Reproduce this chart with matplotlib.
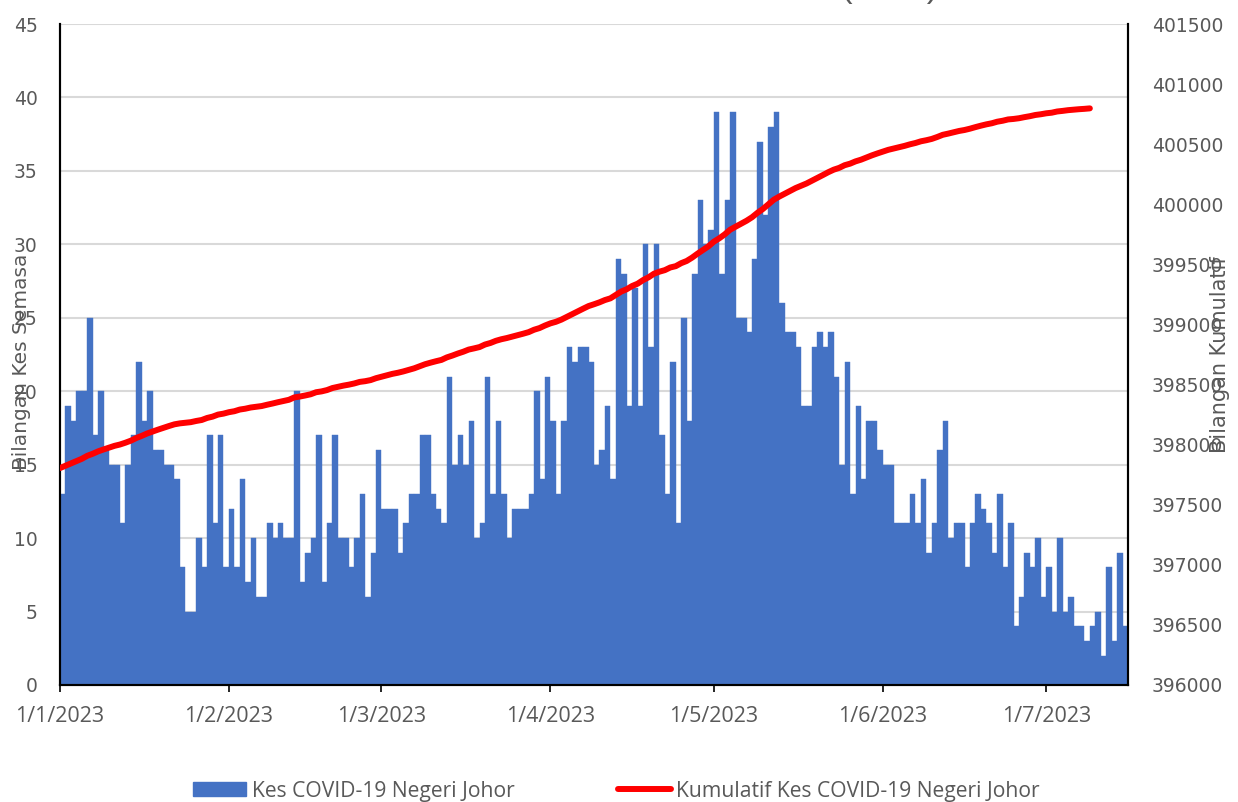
import numpy as np
import pandas as pd
import matplotlib
matplotlib.use("Agg")
import matplotlib.pyplot as plt
from matplotlib import font_manager
from matplotlib.patches import Patch
from matplotlib.lines import Line2D

# daily cases, 1 Jan 2023 onwards
kes_harian = [
    13, 19, 18, 20, 20, 25, 17, 20, 16, 15,
    15, 11, 15, 17, 22, 18, 20, 16, 16, 15,
    15, 14, 8, 5, 5, 10, 8, 17, 11, 17,
    8, 12, 8, 14, 7, 10, 6, 6, 11, 10,
    11, 10, 10, 20, 7, 9, 10, 17, 7, 11,
    17, 10, 10, 8, 10, 13, 6, 9, 16, 12,
    12, 12, 9, 11, 13, 13, 17, 17, 13, 12,
    11, 21, 15, 17, 15, 18, 10, 11, 21, 13,
    18, 13, 10, 12, 12, 12, 13, 20, 14, 21,
    18, 13, 18, 23, 22, 23, 23, 22, 15, 16,
    19, 14, 29, 28, 19, 27, 19, 30, 23, 30,
    17, 13, 22, 11, 25, 18, 28, 33, 30, 31,
    39, 28, 33, 39, 25, 25, 24, 29, 37, 32,
    38, 39, 26, 24, 24, 23, 19, 19, 23, 24,
    23, 24, 21, 15, 22, 13, 19, 14, 18, 18,
    16, 15, 15, 11, 11, 11, 13, 11, 14, 9,
    11, 16, 18, 10, 11, 11, 8, 11, 13, 12,
    11, 9, 13, 8, 11, 4, 6, 9, 8, 10,
    6, 8, 5, 10, 5, 6, 4, 4, 3, 4,
    5, 2, 8, 3, 9, 4,
]
kumulatif_awal = 397792
hari_kumulatif = 190  # red line stops around 9 Jul

tarikh = pd.date_range("2023-01-01", periods=len(kes_harian), freq="D")
kumulatif = kumulatif_awal + np.cumsum(kes_harian[:hari_kumulatif])

label_bar = "Kes COVID-19 Negeri Johor"
label_line = "Kumulatif Kes COVID-19 Negeri Johor"

names = {f.name for f in font_manager.fontManager.ttflist}
narrow = next((n for n in ["Liberation Sans Narrow", "Open Sans", "Lato"] if n in names), "DejaVu Sans")

blue = "#4472C4"
grey_txt = "#595959"

fig = plt.figure(figsize=(12.38, 8.02), dpi=100)
ax = fig.add_axes([60 / 1238, 117 / 802, 1068 / 1238, 661 / 802])

ax.bar(tarikh, kes_harian, width=1.0, align="edge", color=blue, edgecolor=blue, linewidth=0.3, zorder=2)
ax.set_ylim(0, 45)
ax.set_yticks(np.arange(0, 46, 5))
ax.set_xlim(tarikh[0], tarikh[-1] + pd.Timedelta(days=1))
ax.grid(axis="y", color="#D9D9D9", linewidth=1.5, zorder=0)
ax.set_axisbelow(True)

bulan = pd.date_range("2023-01-01", "2023-07-01", freq="MS")
ax.set_xticks(bulan)
ax.set_xticklabels([f"{d.day}/{d.month}/{d.year}" for d in bulan], fontfamily=narrow, fontsize=15.5, color=grey_txt)
ax.tick_params(axis="x", direction="out", length=5, width=1.2, pad=10)
ax.tick_params(axis="y", length=0, pad=16, labelsize=13.5, labelcolor=grey_txt)

ax2 = ax.twinx()
ax2.plot(tarikh[:hari_kumulatif], kumulatif, color="red", linewidth=4.3, solid_capstyle="round", zorder=3)
ax2.set_ylim(396000, 401500)
ax2.set_yticks(np.arange(396000, 401501, 500))
ax2.tick_params(axis="y", length=0, pad=17, labelsize=13.5, labelcolor=grey_txt)

for a in (ax, ax2):
    a.spines["top"].set_visible(False)
    for s in ("left", "right", "bottom"):
        a.spines[s].set_linewidth(1.5)
        a.spines[s].set_color("black")

fig.text(22 / 1238, 1 - 362 / 802, "Bilangan Kes Semasa", rotation=90, ha="center", va="center",
         fontsize=14.5, color=grey_txt)
fig.text(1220 / 1238, 1 - 355 / 802, "Bilangan Kumulatif", rotation=90, ha="center", va="center",
         fontsize=15, color=grey_txt)

# title sits mostly above the canvas, only the bracket tails show
fig.text(938 / 1238, 1 + 3 / 802, "KES COVID-19 HARIAN DAN KUMULATIF NEGERI (2023)", ha="right", va="baseline",
         fontfamily="Liberation Sans", fontsize=24, color=grey_txt)

handles = [Patch(facecolor=blue, edgecolor=blue), Line2D([0], [0], color="red", linewidth=4.3, solid_capstyle="round")]
fig.legend(handles, [label_bar, label_line], loc="center", bbox_to_anchor=(0.498, 1 - 791 / 802), ncol=2,
           frameon=False, prop={"family": narrow, "size": 15.2}, labelcolor=grey_txt,
           handlelength=2.5, handleheight=0.65, handletextpad=0.27, columnspacing=4.9)

fig.savefig("out.png", dpi=100)
